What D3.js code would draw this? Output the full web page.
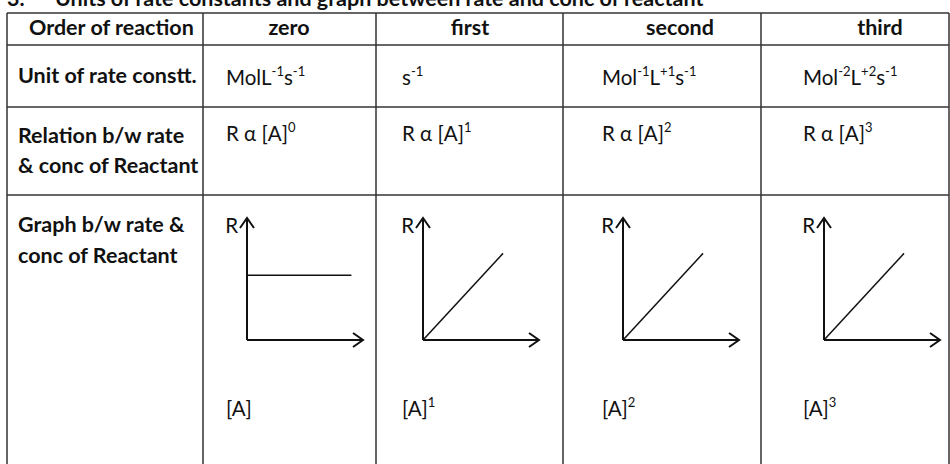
<!DOCTYPE html>
<html>
<head>
<meta charset="utf-8">
<script src="https://cdn.jsdelivr.net/npm/d3@7"></script>
<style>
  html, body { margin: 0; padding: 0; background: #fff; }
  svg { display: block; }
</style>
</head>
<body>
<div id="chart"></div>
<script>
// --- Data ---
const title = "Units of rate constants and graph between rate and conc of reactant";
const rowHeaders = [
    ["Order of reaction"],
    ["Unit of rate constt."],
    ["Relation b/w rate", "& conc of Reactant"],
    ["Graph b/w rate &", "conc of Reactant"]
];
const orders = ["zero", "first", "second", "third"];
// unit of rate constant: [base, superscript] parts
const units = [
    [["MolL", "-1"], ["s", "-1"]],
    [["s", "-1"]],
    [["Mol", "-1"], ["L", "+1"], ["s", "-1"]],
    [["Mol", "-2"], ["L", "+2"], ["s", "-1"]]
];
const exponents = ["0", "1", "2", "3"];
const xLabelSup = ["", "1", "2", "3"];
// sketch of rate vs conc: conc and rate points (0..1 scale)
const concPoints = [[0, 0.9], [0, 0.69], [0, 0.69], [0, 0.69]];
const ratePoints = [[0.53, 0.53], [0, 0.71], [0, 0.71], [0, 0.71]];

// --- Layout ---
const w = 950, h = 464;
const colEdges = [7, 203, 376, 563, 761, 949];
const rowEdges = [13, 45, 107, 195, 470];
const cellPad = [0, 23, 26, 39, 42];
const headerX = [0, 289, 470, 680, 880];
const font = "Lato, 'Open Sans', sans-serif";
const ink = "#111";
const boldSize = 21.5;
const textSize = 20.5;

const svg = d3.select("#chart").append("svg")
    .attr("width", w)
    .attr("height", h);

// title (cut at top of picture, as in the source)
svg.append("text")
    .attr("x", 7).attr("y", 6)
    .attr("font-family", font).attr("font-size", boldSize).attr("font-weight", "bold")
    .attr("fill", ink)
    .text("3.");
svg.append("text")
    .attr("x", 55).attr("y", 6)
    .attr("font-family", font).attr("font-size", boldSize).attr("font-weight", "bold")
    .attr("fill", ink)
    .text(title);

// table grid
const grid = svg.append("g")
    .attr("stroke", "#333")
    .attr("stroke-width", 1.5);

rowEdges.forEach(function (y) {
    grid.append("line")
        .attr("x1", colEdges[0]).attr("x2", colEdges[colEdges.length - 1])
        .attr("y1", y).attr("y2", y);
});
colEdges.forEach(function (x) {
    grid.append("line")
        .attr("x1", x).attr("x2", x)
        .attr("y1", rowEdges[0]).attr("y2", rowEdges[rowEdges.length - 1]);
});

// row headers
const headerBaselines = [[35], [83], [143, 173], [232, 263]];
rowHeaders.forEach(function (lines, r) {
    lines.forEach(function (line, k) {
        svg.append("text")
            .attr("x", r === 0 ? 29 : 18)
            .attr("y", headerBaselines[r][k])
            .attr("font-family", font).attr("font-size", boldSize).attr("font-weight", "bold")
            .attr("fill", ink)
            .text(line);
    });
});

// column headers
svg.selectAll(".order")
    .data(orders)
    .enter()
    .append("text")
    .attr("class", "order")
    .attr("x", function (d, i) { return headerX[i + 1]; })
    .attr("y", 35)
    .attr("text-anchor", "middle")
    .attr("font-family", font).attr("font-size", boldSize).attr("font-weight", "bold")
    .attr("fill", ink)
    .text(function (d) { return d; });

// helper for text with superscripts
function supText(x, y, parts) {
    const raise = 9;
    const t = svg.append("text")
        .attr("x", x).attr("y", y)
        .attr("font-family", font).attr("font-size", textSize)
        .attr("fill", ink);
    let up = false;
    parts.forEach(function (p) {
        t.append("tspan").attr("dy", up ? raise : 0).text(p[0]);
        up = false;
        if (p[1]) {
            t.append("tspan").attr("dy", -raise).attr("font-size", 13).text(p[1]);
            up = true;
        }
    });
    return t;
}

// units
units.forEach(function (parts, i) {
    supText(colEdges[i + 1] + cellPad[i + 1], 85, parts);
});

// relations
exponents.forEach(function (e, i) {
    supText(colEdges[i + 1] + cellPad[i + 1], 141, [["R \u03b1 [A]", e]]);
});

// x labels under graphs
xLabelSup.forEach(function (e, i) {
    supText(colEdges[i + 1] + cellPad[i + 1], 416, [["[A]", e]]);
});

// graphs
orders.forEach(function (d, i) {
    const x0 = colEdges[i + 1] + cellPad[i + 1] + 21;
    const xScale = d3.scaleLinear().domain([0, 1]).range([x0, x0 + 116]);
    const yScale = d3.scaleLinear().domain([0, 1]).range([340, 218]);
    const g = svg.append("g")
        .attr("fill", "none")
        .attr("stroke", ink);

    // axes
    g.append("line")
        .attr("x1", xScale(0)).attr("x2", xScale(0))
        .attr("y1", yScale(0)).attr("y2", yScale(1))
        .attr("stroke-width", 2);
    g.append("line")
        .attr("x1", xScale(0)).attr("x2", xScale(1))
        .attr("y1", yScale(0)).attr("y2", yScale(0))
        .attr("stroke-width", 2);
    // arrow heads
    g.append("path")
        .attr("d", "M" + (xScale(0) - 7) + "," + (yScale(1) + 10) +
            "L" + xScale(0) + "," + yScale(1) +
            "L" + (xScale(0) + 7) + "," + (yScale(1) + 10))
        .attr("stroke-width", 2);
    g.append("path")
        .attr("d", "M" + (xScale(1) - 10) + "," + (yScale(0) - 7) +
            "L" + xScale(1) + "," + yScale(0) +
            "L" + (xScale(1) - 10) + "," + (yScale(0) + 7))
        .attr("stroke-width", 2);

    // rate line
    const pts = concPoints[i].map(function (c, k) { return [c, ratePoints[i][k]]; });
    g.append("path")
        .attr("d", d3.line()
            .x(function (p) { return xScale(p[0]); })
            .y(function (p) { return yScale(p[1]); })(pts))
        .attr("stroke-width", 1.5);

    // R label
    svg.append("text")
        .attr("x", xScale(0) - 9).attr("y", 233)
        .attr("text-anchor", "end")
        .attr("font-family", font).attr("font-size", textSize)
        .attr("fill", ink)
        .text("R");
});
</script>
</body>
</html>
